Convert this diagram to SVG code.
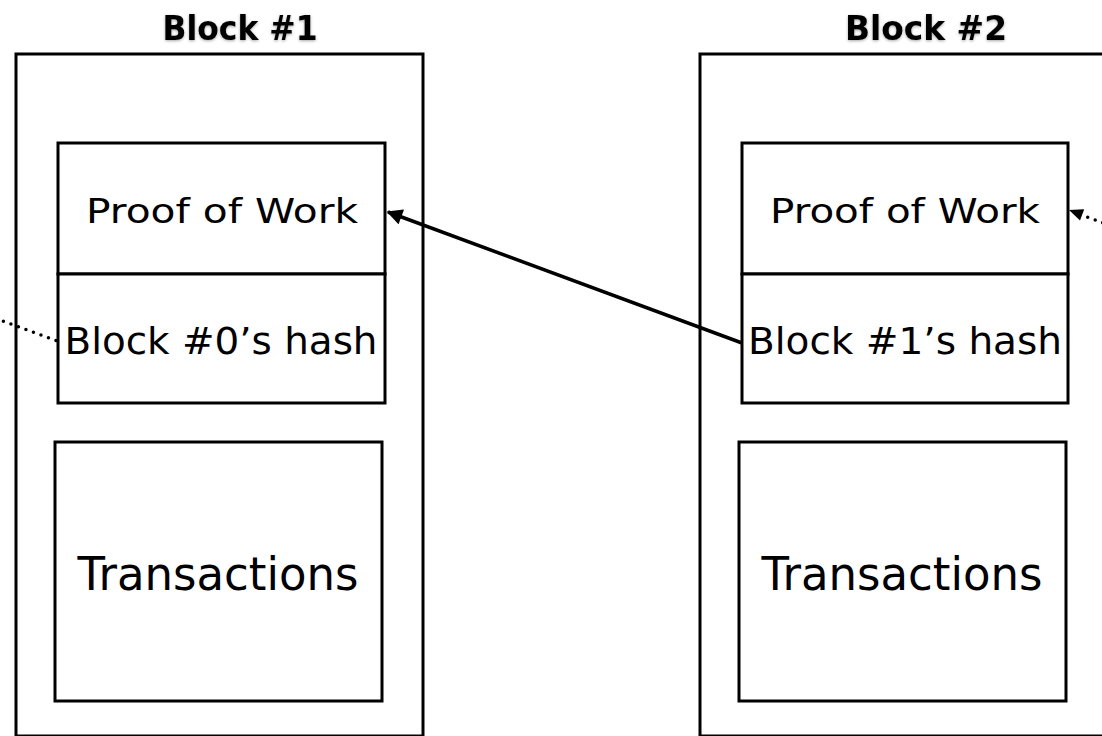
<svg xmlns="http://www.w3.org/2000/svg" width="1102" height="736" viewBox="0 0 1102 736">
  <defs>
    <style>
      .box { fill: #ffffff; stroke: #000000; stroke-width: 3; }
      .lbl { font-family: "DejaVu Sans", "Liberation Sans", sans-serif; fill: #000000; text-anchor: middle; }
      .title { font-family: "DejaVu Sans", "Liberation Sans", sans-serif; font-weight: bold; font-size: 33px; fill: #000000; text-anchor: middle; filter: url(#glow); }
      .solid { fill: none; stroke: #000000; stroke-width: 3.5; }
      .dotted { fill: none; stroke: #000000; stroke-width: 3.5; stroke-linecap: round; stroke-dasharray: 0 8; }
    </style>
    <filter id="glow" x="-20%" y="-40%" width="140%" height="180%">
      <feDropShadow dx="0" dy="1" stdDeviation="1.5" flood-color="#000000" flood-opacity="0.35"/>
    </filter>
    <marker id="arrow" viewBox="0 0 10 10" refX="9" refY="5" markerWidth="5" markerHeight="4.5" orient="auto" markerUnits="strokeWidth">
      <path d="M0,0 L10,5 L0,10 z" fill="#000000"/>
    </marker>
  </defs>
  <rect width="1102" height="736" fill="#ffffff"/>

  <g id="block1">
    <text class="title" x="240" y="40" textLength="155" lengthAdjust="spacingAndGlyphs">Block #1</text>
    <rect class="box" x="16" y="54" width="407" height="682"/>
    <g id="block1-pow">
      <rect class="box" x="58" y="143" width="327" height="131"/>
      <text class="lbl" x="222" y="223" font-size="34" textLength="272" lengthAdjust="spacingAndGlyphs">Proof of Work</text>
    </g>
    <g id="block1-hash">
      <rect class="box" x="58" y="274" width="327" height="129"/>
      <text class="lbl" x="221" y="354" font-size="38" textLength="313" lengthAdjust="spacingAndGlyphs">Block #0’s hash</text>
    </g>
    <g id="block1-tx">
      <rect class="box" x="55" y="442" width="327" height="259"/>
      <text class="lbl" x="218" y="590" font-size="46" textLength="281" lengthAdjust="spacingAndGlyphs">Transactions</text>
    </g>
  </g>

  <g id="block2">
    <text class="title" x="926" y="40" textLength="162" lengthAdjust="spacingAndGlyphs">Block #2</text>
    <rect class="box" x="700" y="54" width="407" height="682"/>
    <g id="block2-pow">
      <rect class="box" x="742" y="143" width="326" height="131"/>
      <text class="lbl" x="905" y="223" font-size="34" textLength="270" lengthAdjust="spacingAndGlyphs">Proof of Work</text>
    </g>
    <g id="block2-hash">
      <rect class="box" x="742" y="274" width="326" height="129"/>
      <text class="lbl" x="905" y="354" font-size="38" textLength="314" lengthAdjust="spacingAndGlyphs">Block #1’s hash</text>
    </g>
    <g id="block2-tx">
      <rect class="box" x="739" y="442" width="327" height="259"/>
      <text class="lbl" x="902" y="590" font-size="46" textLength="281" lengthAdjust="spacingAndGlyphs">Transactions</text>
    </g>
  </g>

  <g id="connectors">
    <line class="solid" x1="742" y1="343" x2="388" y2="212" marker-end="url(#arrow)"/>
    <line class="dotted" x1="-297" y1="211" x2="57" y2="341"/>
    <line class="dotted" x1="1425" y1="343" x2="1082" y2="215"/>
    <polygon points="1069,210 1084.2,209.3 1080,220.5" fill="#000000"/>
  </g>
</svg>
